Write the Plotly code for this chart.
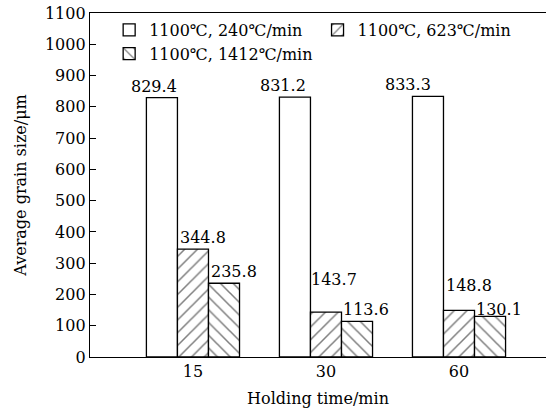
import plotly.graph_objects as go

times = ["15", "30", "60"]
names = ["1100℃, 240℃/min", "1100℃, 623℃/min", "1100℃, 1412℃/min"]
s240 = [829.4, 831.2, 833.3]
s623 = [344.8, 143.7, 148.8]
s1412 = [235.8, 113.6, 130.1]
series = [s240, s623, s1412]
shapes = ["", "/", "\\"]

# label pixel nudges (layout only)
label_dx = [[-8, -12, -20], [10, 8, 10], [10, 9, 9]]
label_dy = [[0, 0, 0], [0, 21, 13], [0, 0, -5]]

FONT = "DejaVu Serif"
fs = 16
bargap = 0.3
bw = (1 - bargap) / 3

fig = go.Figure()
for k, (nm, vals, sh) in enumerate(zip(names, series, shapes)):
    fig.add_trace(go.Bar(
        x=times, y=vals, name=nm,
        marker=dict(color="white", line=dict(color="black", width=1.3),
                    pattern=dict(shape=sh, fgcolor="black", bgcolor="white",
                                 size=9, solidity=0.17)),
    ))
    for i, v in enumerate(vals):
        fig.add_annotation(x=i + (k - 1) * bw, y=v, xref="x", yref="y",
                           text=f"{v:.1f}", showarrow=False, yanchor="bottom",
                           xshift=label_dx[k][i], yshift=label_dy[k][i],
                           font=dict(family=FONT, size=fs, color="black"))

fig.update_layout(
    width=546, height=414,
    margin=dict(l=90, r=0, t=13, b=57, autoexpand=False),
    paper_bgcolor="white", plot_bgcolor="white",
    barmode="group", bargap=bargap, bargroupgap=0,
    font=dict(family=FONT, size=fs, color="black"),
    showlegend=True,
    legend=dict(orientation="h", x=0.042, y=1.0, xanchor="left", yanchor="top",
                bgcolor="rgba(0,0,0,0)", font=dict(family=FONT, size=fs),
                tracegroupgap=0, itemwidth=30, traceorder="normal"),
)
fig.update_xaxes(type="category", range=[-0.774, 2.654], showline=True,
                 linecolor="black", linewidth=1.3, mirror=True, ticks="",
                 showgrid=False, zeroline=False, automargin=False,
                 title=dict(text="Holding time/min", font=dict(family=FONT, size=fs), standoff=12))
fig.update_yaxes(range=[0, 1100], dtick=100, showline=True, linecolor="black",
                 linewidth=1.3, ticks="inside", ticklen=6, tickcolor="black",
                 showgrid=False, zeroline=False, automargin=False,
                 ticklabeloverflow="allow",
                 title=dict(text="Average grain size/μm", font=dict(family=FONT, size=fs), standoff=14))

fig.write_html("out.html", config={"displayModeBar": False},
               post_script="document.body.style.margin='0';")
